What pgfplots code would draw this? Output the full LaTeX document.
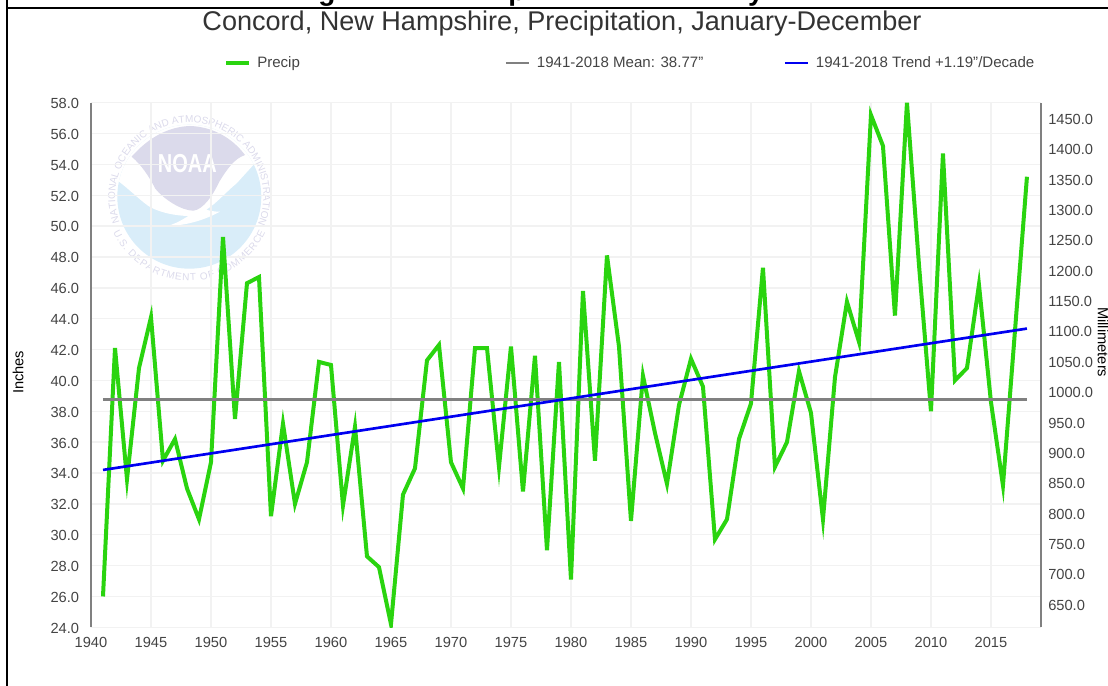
\documentclass[border=0pt]{standalone}
\usepackage{pgfplots}
\pgfplotsset{compat=1.18}
\usepackage{fontspec}
\setmainfont{Liberation Sans}
\usetikzlibrary{decorations.text}
\definecolor{prgreen}{HTML}{2AD40F}
\definecolor{trblue}{HTML}{0000F0}
\definecolor{mngray}{HTML}{808080}
\definecolor{gridc}{HTML}{F2F2F2}
\definecolor{txt}{HTML}{444444}
\definecolor{ttl}{HTML}{333333}
\definecolor{logob}{HTML}{D9EDF9}
\definecolor{logop}{HTML}{DBDAEB}
\newcommand{\tickfont}{\fontsize{11pt}{12pt}\selectfont}
\newcommand{\legfont}{\fontsize{11.3pt}{12pt}\selectfont}
\newcommand{\logofont}{\fontsize{7.5pt}{8pt}\selectfont\color{logop}}
\pgfplotstableread{
year precip
1941 26.0
1942 42.1
1943 33.6
1944 40.8
1945 44.1
1946 34.8
1947 36.2
1948 33.0
1949 31.0
1950 34.7
1951 49.3
1952 37.5
1953 46.3
1954 46.7
1955 31.2
1956 37.2
1957 32.0
1958 34.7
1959 41.2
1960 41.0
1961 31.9
1962 37.0
1963 28.6
1964 27.9
1965 24.2
1966 32.6
1967 34.3
1968 41.3
1969 42.3
1970 34.7
1971 33.0
1972 42.1
1973 42.1
1974 34.4
1975 42.2
1976 32.8
1977 41.6
1978 29.0
1979 41.2
1980 27.1
1981 45.8
1982 34.8
1983 48.1
1984 42.2
1985 30.9
1986 40.3
1987 36.6
1988 33.3
1989 38.4
1990 41.4
1991 39.6
1992 29.7
1993 31.0
1994 36.2
1995 38.5
1996 47.3
1997 34.4
1998 36.0
1999 40.6
2000 37.9
2001 31.0
2002 40.2
2003 45.1
2004 42.5
2005 57.2
2006 55.2
2007 44.2
2008 58.0
2009 47.5
2010 38.0
2011 54.7
2012 40.0
2013 40.8
2014 46.2
2015 38.6
2016 33.2
2017 43.2
2018 53.2
}\precipdata
\begin{document}
\begin{tikzpicture}[x=0.75pt,y=0.75pt]
\useasboundingbox (0,0) rectangle (1108,686);
% clipped heading above the frame
\begin{scope}
\clip (0,679) rectangle (1108,686);
\node[anchor=base,font=\fontsize{21pt}{24pt}\selectfont\bfseries,inner sep=0pt] at (327,685) {g};
\node[anchor=base,font=\fontsize{21pt}{24pt}\selectfont\bfseries,inner sep=0pt] at (517,685) {p};
\node[anchor=base,font=\fontsize{21pt}{24pt}\selectfont\bfseries,inner sep=0pt] at (756,685) {y};
\end{scope}
% frame
\draw[black,line width=1.5pt] (7,686) -- (7,677.7) -- (1108,677.7);
\draw[black,line width=1.5pt] (7,677.7) -- (7,0);
% logo
\begin{scope}[shift={(189.3,489.3)}]
\fill[logob] (0,0) circle[radius=72];
\begin{scope}
\clip (0,0) circle[radius=72];
\fill[white] (-76,19.3) .. controls (-60,8) and (-46,-7) .. (-38,-11) .. controls (-28,-16) and (-14,-19) .. (-1,-19.3)
  .. controls (-10,-25) and (-16,-28) .. (-22.7,-29.3) .. controls (-8,-29) and (10,-26) .. (30.7,-15)
  .. controls (25,-15) and (20,-14) .. (17,-13) .. controls (28,-6) and (38,6) .. (47.3,13.3) -- (64,31.7) -- (72,80) -- (-76,80) -- cycle;
\end{scope}
\fill[logop] (-57.7,40) .. controls (-40,60) and (-20,70) .. (0.7,70.7) .. controls (22,70) and (42,60) .. (55.7,41.7)
  .. controls (45,38) and (38,28) .. (30,15) .. controls (24,2) and (14,-13) .. (4,-14)
  .. controls (-8,-14) and (-26,-2) .. (-34,8) .. controls (-40,20) and (-48,32) .. cycle;
\node[white,font=\fontsize{15pt}{16pt}\selectfont\bfseries,inner sep=0pt] at (-2,33.3) {\scalebox{1}[1.3]{NOAA}};
\path[decorate,decoration={text along path,text align={fit to path},text={|\logofont|NATIONAL OCEANIC AND ATMOSPHERIC ADMINISTRATION}}]
  (200:74) arc[start angle=200,end angle=-20,radius=74];
\path[decorate,decoration={text along path,text align={fit to path},text={|\logofont|U.S. DEPARTMENT OF COMMERCE}}]
  (205:84) arc[start angle=205,end angle=335,radius=84];
\end{scope}
\begin{axis}[
  at={(68.25pt,44pt)},anchor=south west,
  scale only axis,width=712.5pt,height=393.5pt,
  xmin=1940,xmax=2019.17,ymin=24,ymax=58,
  axis y line*=left,axis x line*=bottom,
  x axis line style={draw=none,-},
  y axis line style={draw=mngray,line width=1.9pt,-},
  xtick={1940,1945,...,2015},ytick={24,26,...,58},
  major tick length=0pt,
  grid=major,major grid style={gridc,line width=1pt},
  tick label style={font=\tickfont,text=txt},
  /pgf/number format/assume math mode=true,
  x tick label style={/pgf/number format/1000 sep={},inner sep=0pt,yshift=-7.5pt},
  y tick label style={/pgf/number format/fixed,/pgf/number format/fixed zerofill,/pgf/number format/precision=1,inner sep=0pt,xshift=-8.75pt,yshift=-0.6pt},
  every axis y label/.style={at={(axis description cs:-0.0768,0.486)},rotate=90,anchor=center,font=\tickfont,text=black},
  ylabel={Inches},
  title={Concord, New Hampshire, Precipitation, January-December},
  title style={at={(axis description cs:0.4958,1.1225)},anchor=base,inner sep=0pt,font=\fontsize{20.3pt}{22pt}\selectfont,text=ttl},
  legend style={at={(axis description cs:0.1400,1.0754)},anchor=west,draw=none,fill=none,legend columns=3,inner sep=0pt,font=\legfont,text=txt,
    /tikz/every even column/.style={column sep=0pt}},
  legend cell align=left,
  legend image code/.code={\draw[#1] (0,0) -- (17.25pt,0);},
  clip=true,
]
\addplot[prgreen,line width=3pt,miter limit=10.4] table[x=year,y=precip] {\precipdata};
\addlegendentry{\makebox[186pt][l]{\hspace{2.5pt}Precip}}
\addplot[mngray,line width=2pt] coordinates {(1941,38.77) (2018,38.77)};
\addlegendentry{\makebox[186pt][l]{\hspace{3pt}1941-2018 Mean: 38.77"}}
\addplot[trblue,line width=2pt] coordinates {(1941,34.2) (2018,43.36)};
\addlegendentry{\hspace{3pt}1941-2018 Trend +1.19"/Decade}
\end{axis}
\begin{axis}[
  at={(68.25pt,44pt)},anchor=south west,
  scale only axis,width=712.5pt,height=393.5pt,
  xmin=1940,xmax=2019.17,ymin=611.7,ymax=1475.3,
  axis y line*=right,axis x line=none,
  y axis line style={draw=mngray,line width=1.9pt,-},
  ytick={650,700,...,1450},
  major tick length=0pt,
  tick label style={font=\tickfont,text=txt},
  /pgf/number format/assume math mode=true,
  y tick label style={/pgf/number format/fixed,/pgf/number format/fixed zerofill,/pgf/number format/precision=1,/pgf/number format/1000 sep={},inner sep=0pt,xshift=5.25pt,yshift=-0.9pt},
  every axis y label/.style={at={(axis description cs:1.0653,0.5434)},rotate=-90,anchor=center,font=\tickfont,text=black},
  ylabel={Millimeters},
]
\end{axis}
\end{tikzpicture}
\end{document}
